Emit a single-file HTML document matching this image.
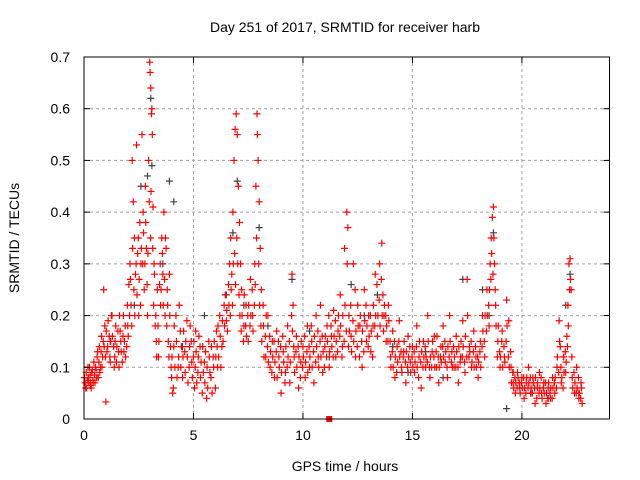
<!DOCTYPE html>
<html><head><meta charset="utf-8"><style>
html,body{margin:0;padding:0;background:#fff;}
svg{display:block;font-family:"Liberation Sans",sans-serif;}
</style></head><body>
<svg id="chart" width="640" height="480">
<text x="345" y="32" font-size="14" text-anchor="middle" fill="#000">Day 251 of 2017, SRMTID for receiver harb</text>
<text x="345" y="471" font-size="14" text-anchor="middle" fill="#000">GPS time / hours</text>
<text x="19" y="238" font-size="14" text-anchor="middle" fill="#000" transform="rotate(-90 19 238)">SRMTID / TECUs</text>
<g id="grid"></g>
<g id="marks"></g>
<g id="axes"></g>
</svg>
<script>
const xTicks = [0,5,10,15,20];
const yTicks = [0,0.1,0.2,0.3,0.4,0.5,0.6,0.7];
const yTickLabels = ["0","0.1","0.2","0.3","0.4","0.5","0.6","0.7"];
const blackPts = [[0.3,0.07],[1.2,0.15],[2.3,0.22],[2.6,0.45],[2.9,0.47],[3.05,0.62],[3.1,0.49],[3.6,0.3],[3.9,0.46],[4.1,0.42],[4.5,0.14],[5.5,0.2],[6.5,0.24],[6.8,0.36],[7.0,0.46],[7.3,0.22],[8.0,0.37],[8.4,0.18],[9.5,0.27],[10.3,0.17],[11.2,0.12],[12.2,0.26],[12.8,0.2],[13.4,0.24],[14.1,0.14],[14.8,0.09],[15.6,0.13],[16.4,0.08],[17.3,0.27],[18.2,0.25],[18.5,0.2],[18.7,0.36],[19.3,0.02],[19.6,0.09],[20.4,0.05],[21.2,0.04],[21.9,0.12],[22.0,0.22],[22.2,0.28],[22.6,0.05]];
const redPts = [
[0.05,0.07],[0.1,0.09],[0.12,0.06],[0.2,0.08],[0.25,0.1],[0.3,0.065],[0.35,0.09],[0.4,0.075],[0.45,0.11],[0.5,0.07],[0.55,0.095],[0.6,0.12],[0.65,0.08],[0.7,0.14],[0.75,0.1],[0.8,0.16],[0.85,0.12],[0.9,0.25],[0.95,0.18],[1.0,0.033],[1.05,0.13],[1.1,0.19],[1.2,0.11],[1.25,0.2],[1.3,0.16],[1.4,0.12],[1.45,0.18],[1.5,0.14],[1.6,0.1],[1.65,0.17],[1.7,0.13],[1.8,0.2],[1.85,0.15],[1.9,0.12],[2.0,0.18],[2.05,0.26],[2.1,0.3],[2.15,0.22],[2.2,0.5],[2.25,0.42],[2.3,0.35],[2.35,0.28],[2.4,0.53],[2.45,0.32],[2.5,0.2],[2.55,0.38],[2.6,0.3],[2.65,0.55],[2.7,0.4],[2.75,0.25],[2.8,0.45],[2.85,0.33],[2.9,0.2],[2.95,0.5],[3.0,0.69],[3.02,0.67],[3.05,0.64],[3.08,0.59],[3.1,0.6],[3.12,0.55],[3.15,0.41],[3.2,0.3],[3.25,0.18],[3.3,0.15],[3.35,0.25],[3.4,0.12],[3.5,0.22],[3.55,0.35],[3.6,0.28],[3.65,0.4],[3.7,0.2],[3.75,0.33],[3.8,0.25],[3.85,0.15],[3.9,0.28],[4.0,0.08],[4.05,0.05],[4.1,0.14],[4.2,0.2],[4.3,0.1],[4.4,0.17],[4.5,0.08],[4.6,0.13],[4.7,0.19],[4.8,0.1],[4.9,0.15],[5.0,0.12],[5.05,0.06],[5.1,0.17],[5.2,0.09],[5.3,0.14],[5.4,0.05],[5.5,0.11],[5.6,0.04],[5.7,0.15],[5.8,0.08],[5.9,0.12],[6.0,0.06],[6.05,0.17],[6.1,0.1],[6.2,0.2],[6.3,0.14],[6.4,0.22],[6.5,0.19],[6.6,0.26],[6.65,0.3],[6.7,0.35],[6.75,0.28],[6.8,0.4],[6.85,0.5],[6.9,0.56],[6.95,0.59],[7.0,0.55],[7.05,0.45],[7.1,0.38],[7.15,0.3],[7.2,0.25],[7.3,0.18],[7.4,0.22],[7.5,0.15],[7.6,0.27],[7.7,0.2],[7.8,0.3],[7.85,0.45],[7.9,0.59],[7.92,0.55],[7.95,0.5],[8.0,0.42],[8.05,0.33],[8.1,0.25],[8.2,0.18],[8.3,0.12],[8.4,0.2],[8.5,0.1],[8.6,0.15],[8.7,0.08],[8.8,0.17],[8.9,0.12],[9.0,0.05],[9.1,0.13],[9.2,0.09],[9.3,0.18],[9.4,0.07],[9.5,0.28],[9.55,0.22],[9.6,0.12],[9.7,0.16],[9.8,0.06],[9.9,0.11],[10.0,0.14],[10.1,0.08],[10.2,0.18],[10.3,0.1],[10.4,0.15],[10.5,0.07],[10.6,0.2],[10.7,0.12],[10.8,0.22],[10.9,0.09],[11.0,0.14],[11.1,0.18],[11.2,0.1],[11.3,0.16],[11.4,0.21],[11.5,0.12],[11.6,0.17],[11.7,0.24],[11.8,0.14],[11.9,0.33],[12.0,0.4],[12.05,0.37],[12.1,0.2],[12.2,0.16],[12.3,0.3],[12.4,0.12],[12.5,0.22],[12.6,0.18],[12.7,0.1],[12.8,0.25],[12.9,0.15],[13.0,0.2],[13.1,0.13],[13.2,0.18],[13.3,0.28],[13.4,0.16],[13.5,0.3],[13.6,0.34],[13.65,0.24],[13.7,0.2],[13.8,0.15],[13.9,0.22],[14.0,0.12],[14.1,0.17],[14.2,0.08],[14.3,0.14],[14.4,0.19],[14.5,0.1],[14.6,0.13],[14.7,0.07],[14.8,0.16],[14.9,0.11],[15.0,0.14],[15.1,0.09],[15.2,0.18],[15.3,0.12],[15.4,0.06],[15.5,0.15],[15.6,0.1],[15.7,0.2],[15.8,0.08],[15.9,0.13],[16.0,0.16],[16.1,0.1],[16.2,0.07],[16.3,0.14],[16.4,0.18],[16.5,0.11],[16.6,0.08],[16.7,0.2],[16.8,0.13],[16.9,0.1],[17.0,0.16],[17.1,0.07],[17.2,0.12],[17.3,0.19],[17.4,0.09],[17.5,0.27],[17.6,0.14],[17.7,0.1],[17.8,0.17],[17.9,0.12],[18.0,0.08],[18.1,0.15],[18.2,0.2],[18.3,0.12],[18.4,0.25],[18.5,0.18],[18.55,0.3],[18.6,0.35],[18.65,0.39],[18.7,0.41],[18.75,0.3],[18.8,0.22],[18.9,0.15],[19.0,0.1],[19.1,0.17],[19.2,0.12],[19.3,0.23],[19.4,0.19],[19.5,0.1],[19.6,0.07],[19.7,0.05],[19.8,0.09],[19.9,0.06],[20.0,0.08],[20.1,0.04],[20.2,0.07],[20.3,0.1],[20.4,0.05],[20.5,0.08],[20.6,0.03],[20.7,0.06],[20.8,0.09],[20.9,0.05],[21.0,0.07],[21.1,0.03],[21.2,0.06],[21.3,0.04],[21.4,0.08],[21.5,0.05],[21.6,0.1],[21.7,0.19],[21.75,0.14],[21.8,0.07],[21.9,0.12],[22.0,0.09],[22.05,0.16],[22.1,0.22],[22.15,0.3],[22.2,0.31],[22.25,0.25],[22.3,0.08],[22.4,0.05],[22.5,0.1],[22.6,0.04],[22.7,0.07],[22.75,0.03]
];
const redPtsExtra = [
[0.02,0.08],[0.08,0.06],[0.15,0.075],[0.18,0.1],[0.22,0.07],[0.28,0.085],[0.33,0.06],[0.38,0.095],[0.42,0.07],[0.48,0.085],[0.52,0.1],[0.58,0.08],[0.62,0.13],[0.68,0.11],[0.72,0.09],[0.78,0.13],[0.82,0.1],[0.88,0.15],[0.92,0.14],[0.98,0.12],[1.02,0.17],[1.08,0.14],[1.15,0.16],[1.18,0.12],[1.22,0.15],[1.28,0.2],[1.35,0.14],[1.38,0.1],[1.42,0.15],[1.48,0.11],[1.55,0.17],[1.58,0.13],[1.62,0.2],[1.68,0.15],[1.75,0.11],[1.78,0.16],[1.82,0.13],[1.88,0.18],[1.95,0.14],[1.98,0.22],[2.02,0.16],[2.08,0.2],[2.12,0.27],[2.18,0.18],[2.22,0.33],[2.28,0.25],[2.32,0.2],[2.38,0.3],[2.42,0.24],[2.48,0.35],[2.52,0.27],[2.58,0.22],[2.62,0.33],[2.68,0.3],[2.72,0.36],[2.78,0.3],[2.82,0.38],[2.88,0.26],[2.92,0.32],[2.98,0.42],[3.04,0.35],[3.06,0.44],[3.14,0.33],[3.18,0.22],[3.22,0.28],[3.28,0.2],[3.32,0.12],[3.38,0.18],[3.42,0.15],[3.45,0.26],[3.48,0.3],[3.52,0.25],[3.58,0.32],[3.62,0.22],[3.68,0.27],[3.72,0.35],[3.78,0.18],[3.82,0.22],[3.88,0.12],[3.92,0.2],[3.95,0.14],[3.98,0.1],[4.02,0.12],[4.08,0.06],[4.12,0.18],[4.15,0.1],[4.22,0.15],[4.25,0.08],[4.32,0.12],[4.35,0.22],[4.42,0.1],[4.45,0.14],[4.52,0.12],[4.55,0.17],[4.62,0.09],[4.65,0.15],[4.72,0.12],[4.75,0.07],[4.82,0.14],[4.85,0.18],[4.92,0.11],[4.95,0.08],[5.02,0.15],[5.08,0.1],[5.12,0.13],[5.15,0.07],[5.22,0.12],[5.25,0.16],[5.32,0.08],[5.35,0.11],[5.42,0.14],[5.45,0.09],[5.52,0.07],[5.55,0.13],[5.62,0.1],[5.65,0.06],[5.72,0.12],[5.75,0.09],[5.82,0.14],[5.85,0.05],[5.92,0.1],[5.95,0.15],[6.02,0.12],[6.08,0.14],[6.12,0.18],[6.15,0.12],[6.22,0.16],[6.25,0.1],[6.32,0.19],[6.35,0.15],[6.42,0.18],[6.45,0.24],[6.52,0.21],[6.55,0.17],[6.62,0.22],[6.68,0.2],[6.72,0.25],[6.78,0.22],[6.82,0.3],[6.88,0.32],[6.92,0.26],[6.98,0.35],[7.02,0.3],[7.08,0.24],[7.12,0.2],[7.18,0.17],[7.22,0.2],[7.28,0.15],[7.32,0.24],[7.38,0.18],[7.42,0.16],[7.48,0.2],[7.52,0.22],[7.58,0.18],[7.62,0.2],[7.68,0.25],[7.72,0.17],[7.78,0.22],[7.82,0.26],[7.88,0.35],[7.98,0.3],[8.02,0.22],[8.08,0.18],[8.12,0.15],[8.18,0.22],[8.22,0.12],[8.28,0.16],[8.32,0.2],[8.38,0.14],[8.42,0.11],[8.48,0.16],[8.52,0.13],[8.58,0.09],[8.62,0.12],[8.68,0.15],[8.72,0.11],[8.78,0.13],[8.82,0.08],[8.88,0.15],[8.92,0.1],[8.98,0.14],[9.02,0.09],[9.08,0.16],[9.12,0.11],[9.18,0.07],[9.22,0.14],[9.28,0.1],[9.32,0.12],[9.38,0.15],[9.42,0.11],[9.48,0.2],[9.52,0.17],[9.58,0.14],[9.62,0.09],[9.68,0.13],[9.72,0.1],[9.78,0.14],[9.82,0.12],[9.88,0.08],[9.92,0.15],[9.98,0.1],[10.02,0.12],[10.08,0.16],[10.12,0.11],[10.18,0.13],[10.22,0.09],[10.28,0.14],[10.32,0.12],[10.38,0.18],[10.42,0.1],[10.48,0.13],[10.52,0.16],[10.58,0.11],[10.62,0.14],[10.68,0.17],[10.72,0.1],[10.78,0.15],[10.82,0.12],[10.88,0.16],[10.92,0.13],[10.98,0.1],[11.02,0.16],[11.08,0.12],[11.12,0.15],[11.18,0.2],[11.22,0.13],[11.28,0.18],[11.32,0.14],[11.38,0.12],[11.42,0.16],[11.48,0.19],[11.52,0.15],[11.58,0.13],[11.62,0.2],[11.68,0.16],[11.72,0.18],[11.78,0.12],[11.82,0.2],[11.88,0.15],[11.92,0.22],[11.98,0.17],[12.02,0.3],[12.08,0.14],[12.12,0.17],[12.18,0.22],[12.22,0.13],[12.28,0.19],[12.32,0.15],[12.38,0.25],[12.42,0.17],[12.48,0.14],[12.52,0.18],[12.58,0.12],[12.62,0.2],[12.68,0.15],[12.72,0.17],[12.78,0.13],[12.82,0.19],[12.88,0.22],[12.92,0.18],[12.98,0.14],[13.02,0.16],[13.08,0.2],[13.12,0.17],[13.18,0.12],[13.22,0.22],[13.28,0.18],[13.32,0.2],[13.38,0.26],[13.42,0.2],[13.48,0.23],[13.52,0.18],[13.58,0.27],[13.62,0.2],[13.68,0.17],[13.72,0.22],[13.78,0.2],[13.82,0.18],[13.88,0.15],[13.92,0.19],[13.98,0.15],[14.02,0.1],[14.08,0.13],[14.12,0.1],[14.18,0.15],[14.22,0.12],[14.28,0.09],[14.32,0.11],[14.38,0.15],[14.42,0.12],[14.48,0.13],[14.52,0.09],[14.58,0.12],[14.62,0.15],[14.68,0.11],[14.72,0.13],[14.78,0.1],[14.82,0.12],[14.88,0.14],[14.92,0.09],[14.98,0.12],[15.02,0.1],[15.08,0.13],[15.12,0.11],[15.18,0.14],[15.22,0.1],[15.28,0.08],[15.32,0.15],[15.38,0.11],[15.42,0.13],[15.48,0.1],[15.52,0.12],[15.58,0.14],[15.62,0.12],[15.68,0.11],[15.72,0.15],[15.78,0.1],[15.82,0.12],[15.88,0.1],[15.92,0.15],[15.98,0.12],[16.02,0.1],[16.08,0.13],[16.12,0.16],[16.18,0.12],[16.22,0.1],[16.28,0.12],[16.32,0.11],[16.38,0.14],[16.42,0.12],[16.48,0.15],[16.52,0.13],[16.58,0.1],[16.62,0.14],[16.68,0.12],[16.72,0.15],[16.78,0.11],[16.82,0.1],[16.88,0.14],[16.92,0.12],[16.98,0.1],[17.02,0.13],[17.08,0.1],[17.12,0.14],[17.18,0.11],[17.22,0.15],[17.28,0.12],[17.32,0.14],[17.38,0.11],[17.42,0.16],[17.48,0.12],[17.52,0.2],[17.58,0.12],[17.62,0.13],[17.68,0.15],[17.72,0.11],[17.78,0.13],[17.82,0.1],[17.88,0.14],[17.92,0.1],[17.98,0.12],[18.02,0.11],[18.08,0.13],[18.12,0.1],[18.18,0.14],[18.22,0.17],[18.28,0.15],[18.32,0.2],[18.38,0.17],[18.42,0.2],[18.48,0.22],[18.52,0.25],[18.58,0.27],[18.62,0.32],[18.68,0.28],[18.72,0.35],[18.78,0.25],[18.82,0.18],[18.88,0.12],[18.92,0.18],[18.98,0.13],[19.02,0.12],[19.08,0.15],[19.12,0.1],[19.18,0.14],[19.22,0.11],[19.28,0.15],[19.32,0.18],[19.38,0.12],[19.42,0.1],[19.48,0.13],[19.52,0.07],[19.58,0.09],[19.62,0.06],[19.68,0.08],[19.72,0.07],[19.78,0.06],[19.82,0.08],[19.88,0.07],[19.92,0.05],[19.98,0.07],[20.02,0.06],[20.08,0.08],[20.12,0.06],[20.18,0.05],[20.22,0.08],[20.28,0.06],[20.32,0.07],[20.38,0.08],[20.42,0.06],[20.48,0.05],[20.52,0.07],[20.58,0.06],[20.62,0.08],[20.68,0.04],[20.72,0.07],[20.78,0.05],[20.82,0.06],[20.88,0.08],[20.92,0.04],[20.98,0.06],[21.02,0.05],[21.08,0.07],[21.12,0.05],[21.18,0.04],[21.22,0.07],[21.28,0.05],[21.32,0.06],[21.38,0.04],[21.42,0.06],[21.48,0.07],[21.52,0.08],[21.58,0.06],[21.62,0.12],[21.68,0.09],[21.72,0.15],[21.78,0.1],[21.82,0.08],[21.88,0.06],[21.92,0.09],[21.98,0.13],[22.02,0.11],[22.08,0.14],[22.12,0.18],[22.18,0.25],[22.22,0.27],[22.28,0.12],[22.32,0.06],[22.38,0.09],[22.42,0.07],[22.48,0.05],[22.52,0.06],[22.58,0.08],[22.62,0.05],[22.68,0.04],[22.72,0.06]
];
const missingPts = [[11.2,0]];

const X0=84, X1=609.5, Y0=419, Y1=57, XMAX=24, YMAX=0.7;
function sx(t){return X0+(X1-X0)*t/XMAX;}
function sy(v){return Y0-(Y0-Y1)*v/YMAX;}
const NS="http://www.w3.org/2000/svg";
function mk(tag,attrs,parent){const e=document.createElementNS(NS,tag);for(const k in attrs)e.setAttribute(k,attrs[k]);parent.appendChild(e);return e;}
const grid=document.getElementById('grid'), marks=document.getElementById('marks'), axes=document.getElementById('axes');
xTicks.forEach((t,i)=>{
  const x=sx(t);
  if(t>0){const g=mk('line',{x1:x,x2:x,y1:Y1,y2:Y0,stroke:'#a0a0a0','stroke-dasharray':'3,3'},grid);
  
  }
  mk('line',{x1:x,x2:x,y1:Y0,y2:Y0-6,stroke:'#000'},axes);
  mk('line',{x1:x,x2:x,y1:Y1,y2:Y1+6,stroke:'#000'},axes);
  const l=mk('text',{x:x,y:Y0+21,'font-size':14,'text-anchor':'middle',fill:'#000'},axes);
  l.textContent=String(t);
  
  
});
yTicks.forEach((v,i)=>{
  const y=sy(v);
  if(v>0&&v<YMAX){const g=mk('line',{x1:X0,x2:X1,y1:y,y2:y,stroke:'#a0a0a0','stroke-dasharray':'3,3'},grid);
  
  }
  mk('line',{x1:X0,x2:X0+6,y1:y,y2:y,stroke:'#000'},axes);
  mk('line',{x1:X1,x2:X1-6,y1:y,y2:y,stroke:'#000'},axes);
  const l=mk('text',{x:X0-14,y:y+5,'font-size':14,'text-anchor':'end',fill:'#000'},axes);
  l.textContent=yTickLabels[i];
  
  
});
const fr=mk('rect',{x:X0,y:Y1,width:X1-X0,height:Y0-Y1,fill:'none',stroke:'#000','stroke-width':1},axes);


function plus(t,v,color,name){
  const x=sx(t),y=sy(v);
  const p=mk('path',{d:`M${x-3.5},${y}H${x+3.5}M${x},${y-3.5}V${y+3.5}`,stroke:color,'stroke-width':1.2,fill:'none'},marks);
  
  
}
blackPts.forEach(p=>plus(p[0],p[1],'#404040','black-point'));
redPts.forEach(p=>plus(p[0],p[1],'#ff0000','red-point'));
redPtsExtra.forEach(p=>plus(p[0],p[1],'#ff0000','red-point'));
missingPts.forEach(p=>{
  const r=mk('rect',{x:sx(p[0])-3,y:sy(p[1])-3,width:6,height:6,fill:'#ff0000'},marks);
  
  
});
</script>
</body></html>
